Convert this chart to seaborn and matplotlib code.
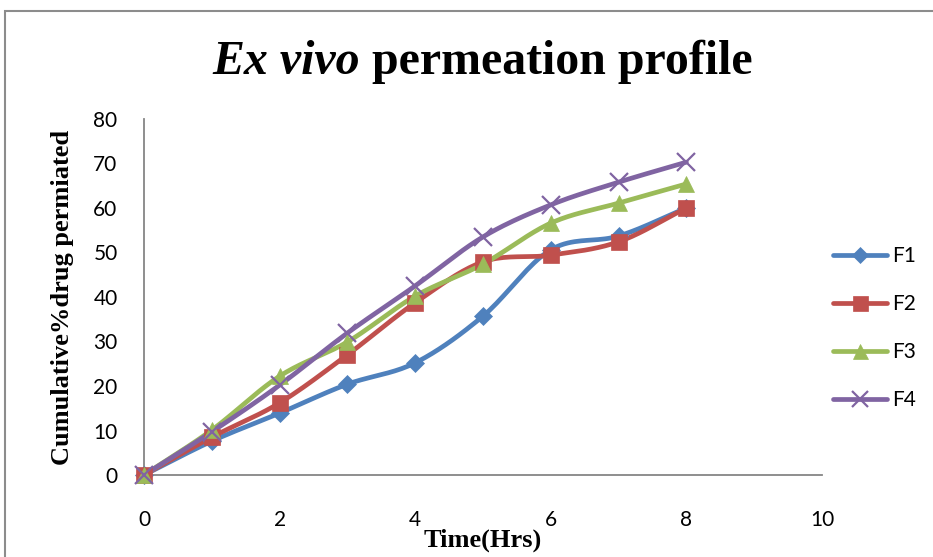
import numpy as np
import pandas as pd
import matplotlib
matplotlib.use("Agg")
import matplotlib.pyplot as plt
from matplotlib.patches import Rectangle
from matplotlib.lines import Line2D
import seaborn as sns

# ---- data ----
time_hrs = [0, 1, 2, 3, 4, 5, 6, 7, 8]
F1 = [0, 7.6, 13.9, 20.4, 25.2, 35.7, 50.6, 53.7, 60.0]
F2 = [0, 8.5, 16.2, 27.0, 38.7, 47.9, 49.4, 52.4, 60.0]
F3 = [0, 10.1, 22.2, 29.9, 40.2, 47.4, 56.6, 61.1, 65.4]
F4 = [0, 9.7, 20.2, 31.9, 42.5, 53.5, 60.7, 65.8, 70.3]
series_names = ["F1", "F2", "F3", "F4"]
x_ticks = [0, 2, 4, 6, 8, 10]
y_ticks = [0, 10, 20, 30, 40, 50, 60, 70, 80]

colors = {"F1": "#4F81BD", "F2": "#C0504D", "F3": "#9BBB59", "F4": "#8064A2"}
markers = {"F1": "D", "F2": "s", "F3": "^", "F4": "x"}
msizes = {"F1": 9, "F2": 12, "F3": 12, "F4": 13}


def smooth(x, y, n=20):
    """Catmull-Rom rendering of the line (like Excel's smoothed line)."""
    x = np.asarray(x, float); y = np.asarray(y, float)
    px = np.concatenate([[2 * x[0] - x[1]], x, [2 * x[-1] - x[-2]]])
    py = np.concatenate([[2 * y[0] - y[1]], y, [2 * y[-1] - y[-2]]])
    xs, ys = [], []
    t = np.linspace(0, 1, n, endpoint=False)
    for i in range(1, len(px) - 2):
        for arr, out in ((px, xs), (py, ys)):
            p0, p1, p2, p3 = arr[i - 1], arr[i], arr[i + 1], arr[i + 2]
            out.extend(0.5 * ((2 * p1) + (-p0 + p2) * t
                              + (2 * p0 - 5 * p1 + 4 * p2 - p3) * t ** 2
                              + (-p0 + 3 * p1 - 3 * p2 + p3) * t ** 3))
    xs.append(x[-1]); ys.append(y[-1])
    return np.array(xs), np.array(ys)


data = {"F1": F1, "F2": F2, "F3": F3, "F4": F4}
rows, curve_rows = [], []
for name in series_names:
    for t_, v in zip(time_hrs, data[name]):
        rows.append({"Time": t_, "Value": v, "Series": name})
    sx, sy = smooth(time_hrs, data[name])
    for a, b in zip(sx, sy):
        curve_rows.append({"Time": a, "Value": b, "Series": name})
df = pd.DataFrame(rows)
curves = pd.DataFrame(curve_rows)

sns.set_style("white")
plt.rcParams["font.family"] = ["Lato", "DejaVu Sans"]
plt.rcParams["text.color"] = "black"
plt.rcParams["axes.labelcolor"] = "black"
plt.rcParams["xtick.color"] = "black"
plt.rcParams["ytick.color"] = "black"

fig = plt.figure(figsize=(9.33, 5.57), dpi=100)
ax = fig.add_axes([0.1543, 0.1472, 0.881 - 0.1543, 0.7864 - 0.1472])

# outer chart border
fig.patches.append(Rectangle((5 / 933, -0.05), 1.2, 1 - 11 / 557 + 0.05,
                             transform=fig.transFigure, fill=False,
                             edgecolor="#8c8c8c", linewidth=1.5, zorder=0))

for name in series_names:
    sub = curves[curves["Series"] == name]
    sns.lineplot(data=sub, x="Time", y="Value", ax=ax, color=colors[name],
                 linewidth=3.4, sort=False, estimator=None, legend=False)
    pts = df[df["Series"] == name]
    ax.plot(pts["Time"], pts["Value"], linestyle="none", marker=markers[name],
            markersize=msizes[name], color=colors[name],
            markeredgewidth=1.6 if name == "F4" else 0.5,
            markeredgecolor=colors[name], zorder=5, clip_on=False)

ax.set_xlim(0, 10)
ax.set_ylim(0, 80)
ax.set_xticks(x_ticks)
ax.set_yticks(y_ticks)
ax.set_xticklabels([str(v) for v in x_ticks], fontsize=15)
ax.set_yticklabels([str(v) for v in y_ticks], fontsize=15)
ax.tick_params(axis="y", length=0, pad=19)
ax.tick_params(axis="x", length=0, pad=25)
for s in ["top", "right"]:
    ax.spines[s].set_visible(False)
for s in ["left", "bottom"]:
    ax.spines[s].set_color("#868686")
    ax.spines[s].set_linewidth(1.3)

ax.set_xlabel("Time(Hrs)", fontsize=19, fontweight="bold",
              family="Liberation Serif", labelpad=-1)
ax.set_ylabel("Cumulative%drug permiated", fontsize=19, fontweight="bold",
              family="Liberation Serif", labelpad=14)

# title: italic "Ex vivo" + upright "permeation profile"
ty = 1 - 62 / 557
t1 = fig.text(212 / 933, ty, "Ex vivo", fontsize=34.5, fontweight="bold",
              fontstyle="italic", family="Liberation Serif", ha="left", va="center")
fig.canvas.draw()
bb = t1.get_window_extent()
x2 = (bb.x1 + 12) / fig.bbox.width
fig.text(x2, ty, "permeation profile", fontsize=34.5,
         fontweight="bold", family="Liberation Serif", ha="left", va="center")

handles = [Line2D([0], [0], color=colors[n], linewidth=3.4, marker=markers[n],
                  markersize=msizes[n] * 0.9,
                  markeredgewidth=1.6 if n == "F4" else 0.5,
                  markeredgecolor=colors[n]) for n in series_names]
fig.legend(handles, series_names, loc="center left",
           bbox_to_anchor=(833 / 933, 1 - 328 / 557), frameon=False,
           fontsize=15, handlelength=2.6, labelspacing=1.35, handletextpad=0.25,
           borderpad=0, borderaxespad=0)

fig.savefig("out.png", dpi=100)
